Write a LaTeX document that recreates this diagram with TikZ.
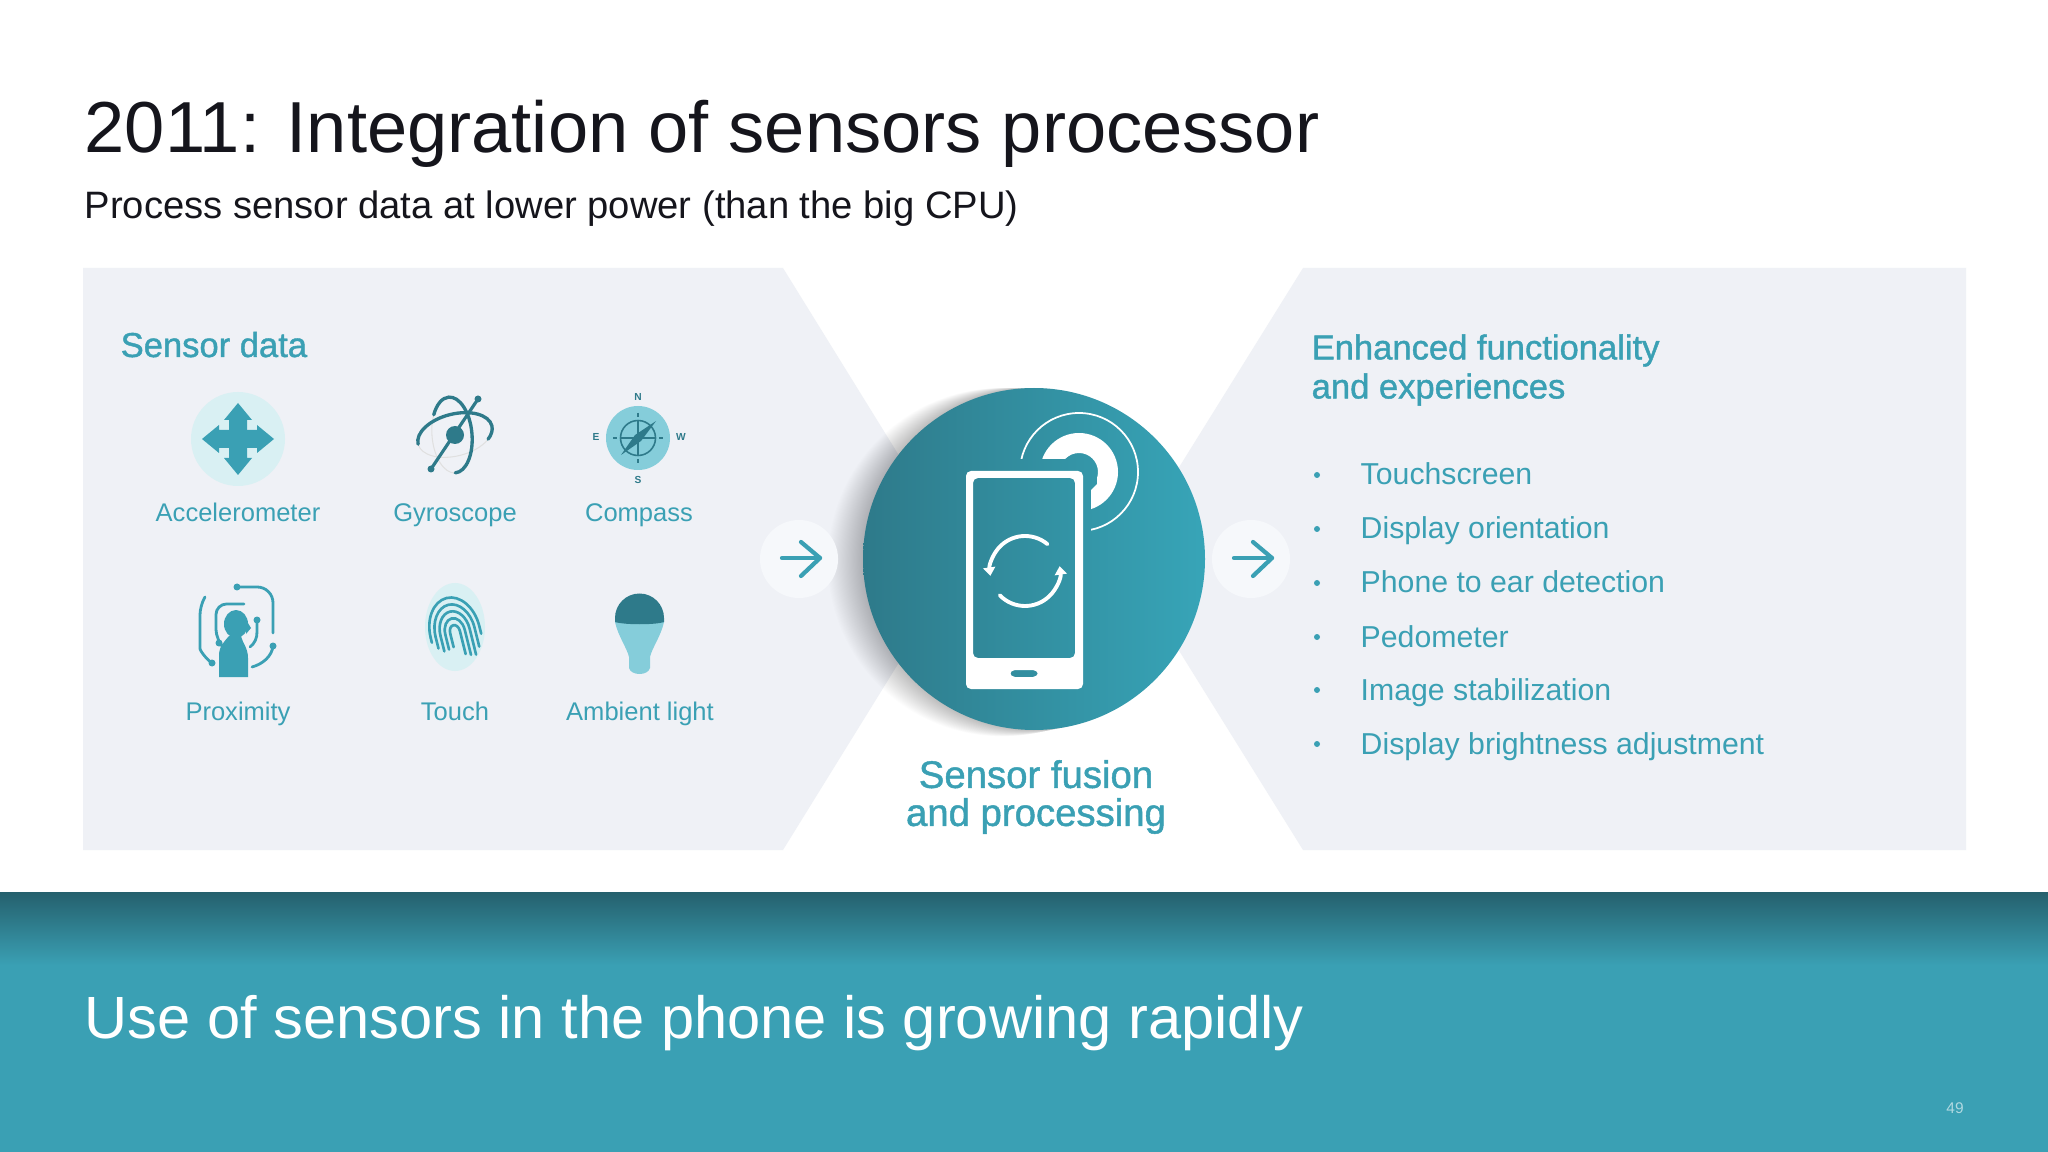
\documentclass[tikz,border=0pt]{standalone}
\usepackage{fontspec}
\setmainfont{Liberation Sans}
\newfontfamily\semifont[FakeBold=1.2]{Liberation Sans}
\usepackage{tikz}
\usetikzlibrary{arrows.meta}
\definecolor{sensorteal}{HTML}{3AA0B4}
\definecolor{darkteal}{HTML}{2E7A8A}
\definecolor{bannerteal}{HTML}{25606D}
\definecolor{lightteal}{HTML}{85CDDA}
\definecolor{paleteal}{HTML}{D9F0F3}
\definecolor{panelgray}{HTML}{EFF1F6}
\definecolor{bubblegray}{HTML}{F6F8FB}
\definecolor{inktext}{HTML}{15151C}
\tikzset{
titletext/.style = {anchor = base west, inner sep = 0pt, text = inktext, font = \fontsize{20.55}{24}\selectfont},
subtext/.style = {anchor = base west, inner sep = 0pt, text = inktext, font = \fontsize{10.86}{13}\selectfont},
headtext/.style = {inner sep = 0pt, text = sensorteal, font = \semifont\fontsize{9.83}{11.1}\selectfont},
fusiontext/.style = {inner sep = 0pt, text = sensorteal, font = \semifont\fontsize{10.9}{10.8}\selectfont},
icontext/.style = {anchor = base, inner sep = 0pt, text = sensorteal, font = \fontsize{7.26}{9}\selectfont},
listtext/.style = {anchor = base west, inner sep = 0pt, text = sensorteal, font = \fontsize{8.6}{11}\selectfont},
compasstext/.style = {text = darkteal, inner sep = 0pt, font = \bfseries\fontsize{2.9}{3}\selectfont},
wire/.style = {draw = sensorteal, line width = 0.8pt, line cap = round},
dot/.style = {fill = sensorteal},
orbit/.style = {draw = darkteal, line width = 0.95pt, line cap = round},
ridge/.style = {draw = sensorteal, line width = 0.75pt, line cap = round},
pointer/.style = {draw = sensorteal, line width = 1.2pt, line cap = round, line join = round}
}
\begin{document}
\begin{tikzpicture}[x=0.01cm, y=-0.01cm]
\useasboundingbox (0,0) rectangle (2048,1152);
\fill[white] (0,0) rectangle (2048,1152);

\fill[panelgray] (83,268)--(783,268)--(963,559)--(783,850)--(83,850)--cycle;
\fill[panelgray] (1966,268)--(1303,268)--(1122,559)--(1303,850)--(1966,850)--cycle;

\shade[top color=bannerteal, bottom color=sensorteal] (0,892) rectangle (2048,965);
\fill[sensorteal] (0,965) rectangle (2048,1152);

\node[titletext] (title) at (84,153) {2011: Integration of sensors processor};
\node[subtext] (subtitle) at (84,219) {Process sensor data at lower power (than the big CPU)};
\node[anchor = base west, inner sep = 0pt, text = white, font = \fontsize{16.95}{20}\selectfont] (message) at (84,1038) {Use of sensors in the phone is growing rapidly};
\node[text = white!60!sensorteal, font = \fontsize{4.4}{5}\selectfont] (pagenum) at (1955,1108) {49};

\node[headtext, anchor = base west] (sensordata) at (120,357) {Sensor data};
\node[headtext, anchor = west, align = left] (enhanced) at (1311,370) {Enhanced functionality\\and experiences};
\node[fusiontext, align = center] (fusion) at (1036,797) {Sensor fusion\\and processing};

\node[icontext] (accel) at (238,522) {Accelerometer};
\node[icontext] (gyro) at (455,522) {Gyroscope};
\node[icontext] (compass) at (639,522) {Compass};
\node[icontext] (prox) at (238,720) {Proximity};
\node[icontext] (touch) at (455,720) {Touch};
\node[icontext] (ambient) at (640,720) {Ambient light};

\foreach \i/\y/\t in {1/485/Touchscreen, 2/539/Display orientation, 3/593/Phone to ear detection, 4/647/Pedometer, 5/700/Image stabilization, 6/754/Display brightness adjustment} {
\fill[sensorteal] (1317,\y-10) circle (3);
\node[listtext] (item\i) at (1360,\y) {\t};
}

\begin{scope}[shift={(238,439)}]
\fill[paleteal] (0,0) circle (47);
\foreach \a in {0,90,180,270} {
\fill[sensorteal, rotate=\a] (-9,0)--(-9,-19)--(-14,-19)--(0,-36)--(14,-19)--(9,-19)--(9,0)--cycle;
}
\end{scope}

\begin{scope}[shift={(455,435)}]
\draw[black!12, line width = 0.3pt, rotate=14] (0,0) ellipse [x radius=38, y radius=21];
\draw[black!12, line width = 0.3pt, shift={(-3,0)}, rotate=-85] (0,0) ellipse [x radius=38, y radius=20];
\begin{scope}[rotate=14]
\draw[orbit] (-38,0) arc [x radius=38, y radius=21, start angle=180, end angle=395];
\end{scope}
\begin{scope}[shift={(-3,0)}, rotate=-85]
\draw[orbit] (38,0) arc [x radius=38, y radius=20, start angle=0, end angle=-235];
\end{scope}
\draw[darkteal, line width = 0.9pt] (23,-36)--(-24,34);
\fill[darkteal] (0,0) circle (9);
\fill[darkteal] (23,-36) circle (3.5);
\fill[darkteal] (-24,34) circle (3.5);
\end{scope}

\begin{scope}[shift={(638,438)}]
\fill[lightteal] (0,0) circle (32);
\draw[darkteal, line width = 0.45pt] (0,0) circle (17.5);
\draw[darkteal, line width = 0.4pt] (-25,0)--(-21,0) (-18,0)--(18,0) (21,0)--(25,0);
\draw[darkteal, line width = 0.4pt] (0,-25)--(0,-21) (0,-18)--(0,18) (0,21)--(0,25);
\fill[darkteal] (18,-17)--(3,3)--(-17,17)--(-3,-3)--cycle;
\node[compasstext] (north) at (0,-41) {N};
\node[compasstext] (south) at (0,42) {S};
\node[compasstext] (east) at (-42,-1) {E};
\node[compasstext] (west) at (43,-1) {W};
\end{scope}

\fill[sensorteal] (236,624) ellipse [x radius=12, y radius=14];
\fill[sensorteal] (246,620)--(251,628)--(246,634)--cycle;
\fill[sensorteal] (219,677)--(219,656) .. controls (219,646) and (224,642) .. (229,636)--(241,636) .. controls (243,644) and (248,648) .. (248,658)--(248,677)--cycle;
\draw[wire, rounded corners=4.5pt] (237,587)--(273,587)--(273,633);
\fill[dot] (237,587) circle (3.5);
\draw[wire, rounded corners=2.5pt] (205,597)--(200,606)--(200,640) .. controls (200,650) and (205,658) .. (212,663);
\fill[dot] (212,663) circle (3.5);
\draw[wire, rounded corners=3pt] (244,604)--(216,604)--(216,640)--(219,643);
\fill[dot] (219,643) circle (3.5);
\draw[wire] (257,620)--(257,632) .. controls (257,638) and (255,643) .. (250,647);
\fill[dot] (257,620) circle (3.5);
\draw[wire] (273,646) .. controls (272,656) and (263,664) .. (252,667);
\fill[dot] (273,646) circle (3.5);

\fill[paleteal] (455,627) ellipse [x radius=30, y radius=44];
\begin{scope}[shift={(455,632)}, rotate=14]
\foreach \r/\l in {5/24, 10/26, 15/27, 20/20, 25/8} {
\draw[ridge] (-\r,0)--(-\r,\l*0.6);
\draw[ridge] (\r,\l)--(\r,0) arc [x radius=\r, y radius=1.4*\r, start angle=0, end angle=-180];
}
\end{scope}

\fill[lightteal] (615,622) .. controls (618,636) and (627,648) .. (629,657)--(629,668) .. controls (631,676) and (648,676) .. (650,668)--(650,657) .. controls (652,648) and (661,636) .. (664,622)--cycle;
\fill[darkteal] (615,618) arc [radius=24.5, start angle=180, end angle=360]--(664,622) .. controls (655,625) and (625,625) .. (615,622)--cycle;

\foreach \d in {1,2,...,32} {
\fill[black, opacity=0.009] (1034-\d,559+\d*0.1) circle (171+\d*0.1);
}
\foreach \c/\x in {left/799, right/1251} {
\node[circle, fill = bubblegray, minimum size = 0.78cm, inner sep = 0pt] (bubble\c) at (\x,559) {};
\coordinate (start\c) at (\x-17,558);
\coordinate (end\c) at (\x+21,558);
\draw[pointer] (start\c)--(end\c);
\draw[pointer] (\x+2,542)--(end\c)--(\x+2,576);
}

\shade[left color=darkteal, right color=sensorteal!95!cyan] (1034,559) circle (171);

\begin{scope}
\clip (1000,380)--(1160,380)--(1160,545)--(1091,545)--(1091,490)--(1097,484)--(1097,470)--(1091,459)--(1000,459)--cycle;
\fill[white, even odd rule] (1079,472) circle (39) (1079,472) circle (19);
\draw[white, line width = 0.5pt] (1079,472) circle (59);
\end{scope}

\fill[white, even odd rule, rounded corners=1.4pt] (966,471) rectangle (1083,689) (973,478) rectangle (1075,658) (1010,670) rectangle (1038,677);
\draw[white, line width = 1.1pt, line cap = round, -{Triangle[length=2.4pt, width=3.4pt]}] (1025,571) ++(-50:35) arc [radius=35, start angle=-50, end angle=-188];
\draw[white, line width = 1.1pt, line cap = round, -{Triangle[length=2.4pt, width=3.4pt]}] (1025,571) ++(136:35) arc [radius=35, start angle=136, end angle=-8];
\end{tikzpicture}
\end{document}
